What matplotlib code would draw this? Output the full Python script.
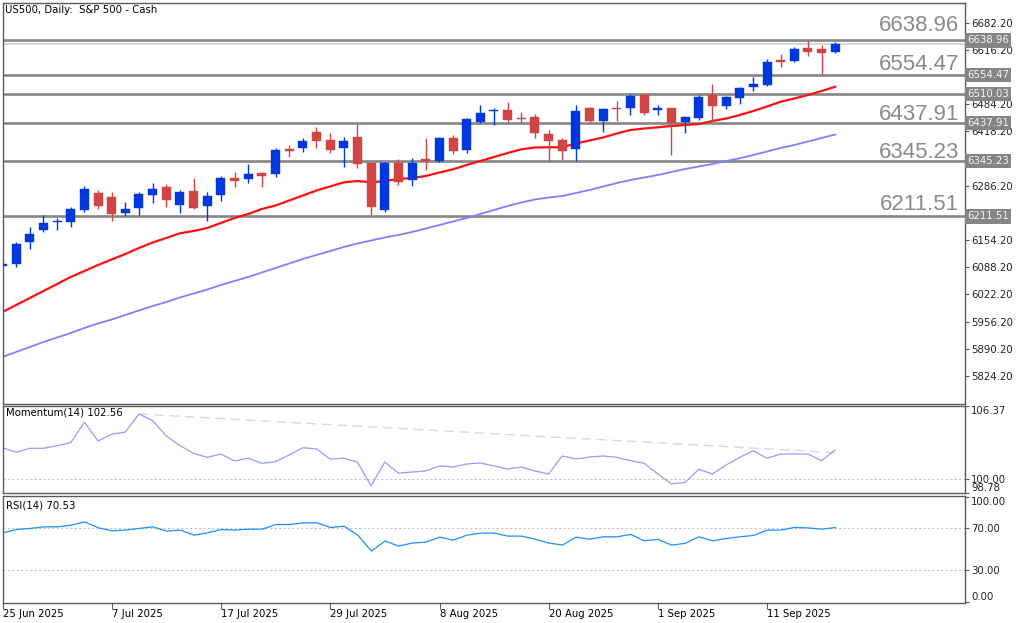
import numpy as np
import matplotlib
matplotlib.use("Agg")
import matplotlib.pyplot as plt
import matplotlib.transforms as mtransforms

# US500 daily candles, 25 Jun 2025 .. 18 Sep 2025
opens = [6091.3, 6095.4, 6149.6, 6178.0, 6197.4, 6198.9, 6227.3, 6269.3, 6258.1, 6219.3,
         6232.9, 6263.7, 6283.1, 6239.4, 6273.4, 6237.7, 6263.7, 6305.7, 6301.8, 6316.4,
         6314.7, 6375.4, 6377.1, 6417.4, 6397.3, 6377.1, 6405.3, 6340.7, 6227.3, 6340.7,
         6300.1, 6350.4, 6347.0, 6401.4, 6373.0, 6441.7, 6467.0, 6470.1, 6450.0, 6453.9,
         6411.9, 6397.3, 6374.7, 6475.7, 6444.2, 6474.3, 6474.3, 6506.6, 6470.1, 6474.3,
         6440.3, 6450.0, 6506.6, 6479.9, 6500.0, 6526.7, 6530.9, 6591.6, 6589.9, 6621.5,
         6617.6, 6611.7]
highs = [6101.0, 6150.3, 6186.7, 6215.1, 6207.1, 6235.3, 6286.3, 6275.8, 6271.0, 6246.0,
         6270.3, 6292.1, 6290.4, 6275.8, 6304.3, 6270.3, 6309.8, 6320.3, 6339.0, 6320.3,
         6377.1, 6385.1, 6401.4, 6429.6, 6413.6, 6405.3, 6435.4, 6342.0, 6344.6, 6351.1,
         6354.3, 6401.4, 6403.8, 6409.4, 6450.0, 6482.3, 6474.3, 6488.8, 6464.6, 6460.4,
         6421.6, 6401.4, 6482.3, 6478.2, 6474.3, 6492.7, 6509.0, 6508.5, 6482.3, 6476.0,
         6455.6, 6506.6, 6532.6, 6504.9, 6526.7, 6551.0, 6594.0, 6605.4, 6623.9, 6637.7,
         6628.0, 6636.0]
lows = [6088.8, 6089.6, 6131.8, 6174.6, 6178.7, 6186.7, 6221.7, 6229.0, 6201.3, 6213.4,
        6215.1, 6243.5, 6233.8, 6219.3, 6229.0, 6201.3, 6249.1, 6283.9, 6292.1, 6282.4,
        6308.2, 6356.7, 6368.9, 6378.6, 6365.0, 6332.4, 6328.6, 6215.1, 6221.7, 6288.0,
        6286.3, 6324.4, 6344.6, 6363.3, 6366.4, 6437.8, 6433.7, 6440.3, 6437.8, 6401.4,
        6347.0, 6348.7, 6347.0, 6440.3, 6417.4, 6444.2, 6458.0, 6458.0, 6458.0, 6360.9,
        6414.3, 6445.9, 6443.4, 6472.6, 6484.0, 6516.3, 6529.2, 6575.3, 6586.0, 6602.0,
        6556.8, 6607.9]
closes = [6096.1, 6144.0, 6169.0, 6196.4, 6200.6, 6229.0, 6277.5, 6237.0, 6217.6, 6229.0,
          6265.4, 6279.0, 6251.6, 6271.0, 6231.4, 6261.3, 6304.3, 6297.7, 6314.7, 6310.6,
          6373.0, 6371.3, 6395.6, 6394.9, 6373.0, 6394.9, 6339.0, 6235.3, 6340.7, 6294.5,
          6340.7, 6347.0, 6401.4, 6370.6, 6447.6, 6463.6, 6470.1, 6445.9, 6447.6, 6415.0,
          6395.6, 6371.3, 6467.7, 6444.2, 6471.8, 6471.8, 6504.9, 6463.6, 6474.3, 6437.8,
          6452.4, 6502.4, 6479.9, 6501.0, 6524.3, 6532.6, 6586.0, 6587.4, 6618.3, 6611.7,
          6607.9, 6630.4]

# moving averages (red = fast, lavender = slow)
ma_fast = [5979.5, 5996.5, 6013.5, 6030.5, 6047.5, 6064.6, 6079.1, 6093.7, 6107.1, 6120.4,
           6135.0, 6148.3, 6159.3, 6170.7, 6176.3, 6183.6, 6195.7, 6207.8, 6217.6, 6229.7,
           6238.2, 6250.3, 6262.5, 6274.6, 6284.4, 6294.5, 6297.7, 6294.5, 6297.7, 6302.6,
           6305.0, 6309.8, 6318.3, 6326.1, 6336.6, 6346.3, 6356.0, 6365.7, 6374.7, 6379.1,
           6379.6, 6379.6, 6388.8, 6396.1, 6403.4, 6413.1, 6421.6, 6425.2, 6428.1, 6431.3,
           6433.7, 6436.1, 6443.4, 6449.5, 6458.0, 6467.7, 6478.6, 6490.3, 6498.1, 6506.6,
           6516.3, 6526.7]
ma_slow = [5870.3, 5882.4, 5894.5, 5906.7, 5917.6, 5928.5, 5940.7, 5951.6, 5961.3, 5972.3,
           5983.2, 5994.1, 6003.8, 6014.8, 6024.5, 6034.2, 6045.1, 6054.8, 6064.6, 6075.5,
           6086.4, 6097.3, 6108.3, 6118.0, 6127.7, 6137.4, 6145.9, 6153.2, 6160.5, 6166.6,
           6173.8, 6182.3, 6190.8, 6199.3, 6207.8, 6217.6, 6227.3, 6237.0, 6245.5, 6252.8,
           6257.6, 6261.3, 6268.6, 6275.8, 6284.3, 6292.8, 6300.1, 6306.2, 6312.3, 6319.6,
           6326.8, 6332.9, 6339.0, 6346.3, 6352.8, 6360.9, 6369.4, 6377.9, 6385.1, 6393.6,
           6402.1, 6410.6]

momentum = [102.73, 102.33, 102.68, 102.68, 102.91, 103.17, 104.95, 103.32, 103.90, 104.10,
            105.67, 105.09, 103.75, 102.91, 102.24, 101.89, 102.18, 101.57, 101.81, 101.37,
            101.51, 102.10, 102.73, 102.62, 101.75, 101.81, 101.48, 99.39, 101.48, 100.52,
            100.61, 100.70, 101.14, 101.05, 101.31, 101.40, 101.14, 100.87, 101.05, 100.70,
            100.44, 102.01, 101.75, 101.92, 102.01, 101.89, 101.60, 101.37, 100.44, 99.57,
            99.71, 100.85, 100.44, 101.22, 101.89, 102.47, 101.81, 102.18, 102.18, 102.18,
            101.60, 102.56]
momentum_trend_x = [10, 61]
momentum_trend_y = [105.67, 102.30]

rsi = [65.5, 68.7, 69.7, 71.2, 71.2, 72.8, 75.9, 70.2, 67.4, 68.1,
       69.7, 71.2, 67.1, 68.1, 63.3, 65.5, 68.7, 68.1, 69.0, 69.0,
       73.4, 73.4, 75.0, 75.0, 70.6, 71.8, 63.3, 48.2, 57.7, 52.9,
       55.8, 56.7, 61.4, 58.6, 63.3, 65.2, 65.2, 62.4, 62.4, 59.5,
       55.8, 53.9, 61.4, 59.5, 61.7, 61.7, 64.0, 57.9, 59.3, 53.9,
       55.5, 61.7, 57.9, 60.2, 61.7, 63.0, 68.1, 68.1, 70.6, 70.2,
       69.0, 70.53]

# horizontal levels drawn on the chart
levels = [6638.96, 6554.47, 6510.03, 6437.91, 6345.23, 6211.51]
level_captions = ["6638.96", "6554.47", "", "6437.91", "6345.23", "6211.51"]
caption_offsets = [11, 8, 0, 6.5, 6.5, 8.5]  # points above the line
bid_price = 6630.4

# price scale; labels hidden under the level tags are left blank (as on the terminal)
price_ticks = [6682.20, 6616.20, 6550.20, 6484.20, 6418.20, 6352.20, 6286.20, 6220.20,
               6154.20, 6088.20, 6022.20, 5956.20, 5890.20, 5824.20]
price_tick_labels = ["6682.20", "6616.20", "", "6484.20", "6418.20", "", "6286.20", "",
                     "6154.20", "6088.20", "6022.20", "5956.20", "5890.20", "5824.20"]
date_labels = ["25 Jun 2025", "7 Jul 2025", "17 Jul 2025", "29 Jul 2025",
               "8 Aug 2025", "20 Aug 2025", "1 Sep 2025", "11 Sep 2025"]
date_idx = [0, 8, 16, 24, 32, 40, 48, 56]

UP = "#0038e0"
DOWN = "#d04444"
FRAME = "#5a5a5a"
LEVEL = "#868686"
FS = 7.3

W, H = 1024, 623
fig = plt.figure(figsize=(W / 100, H / 100), dpi=100)
fig.patch.set_facecolor("white")

def px_axes(left, top, right, bottom):
    return fig.add_axes([left / W, 1 - bottom / H, (right - left) / W, (bottom - top) / H])

ax = px_axes(3, 3, 965, 404)
ax_m = px_axes(3, 406, 965, 493)
ax_r = px_axes(3, 496, 965, 602.5)

x = np.arange(len(opens))
o = np.array(opens); c = np.array(closes)
cols = [UP if cc >= oo else DOWN for oo, cc in zip(o, c)]

for a in (ax, ax_m, ax_r):
    a.set_xlim(0.04, 70.5)
    for s in a.spines.values():
        s.set_color(FRAME)
        s.set_linewidth(1.0)
    a.yaxis.tick_right()
    a.tick_params(axis="y", direction="out", length=3, width=0.8, color=FRAME,
                  labelsize=FS, pad=1.5, labelcolor="#222222")
    a.tick_params(axis="x", bottom=False, labelbottom=False)

# ---- main price panel ----
ax.set_ylim(5756.1, 6730.0)
trans = mtransforms.blended_transform_factory(ax.transAxes, ax.transData)
for lv, cap, off in zip(levels, level_captions, caption_offsets):
    ax.axhline(lv, color=LEVEL, lw=1.9, zorder=1)
    if cap:
        ax.annotate(cap, xy=(0.9938, lv), xycoords=trans, xytext=(0, off),
                    textcoords="offset points", ha="right", va="center",
                    fontsize=16, color="#8a8a8a", family="Liberation Sans", zorder=5)
ax.axhline(bid_price, color="#d3dada", lw=1.4, zorder=1)

ax.plot(x, ma_slow, color="#8080ff", lw=1.3, zorder=2)
ax.plot(x, ma_fast, color="#ff1010", lw=1.6, zorder=2)

ax.vlines(x, lows, highs, colors=cols, lw=1.0, zorder=3)
bottoms = np.minimum(o, c)
heights = np.maximum(np.abs(c - o), 2.4)
ax.bar(x, heights, bottom=bottoms, width=0.66, color=cols, edgecolor=cols, lw=0.3, zorder=4)

ax.set_yticks(price_ticks)
ax.set_yticklabels(price_tick_labels)

# price tags on the right scale
for lv in levels:
    ax.text(1.0025, lv, f"{lv:.2f}", transform=trans, ha="left", va="center", fontsize=FS,
            color="#f4f4f4", clip_on=False, zorder=6,
            bbox=dict(boxstyle="square,pad=0.2", fc="#858585", ec="none"))

fig.text(5 / W, 1 - 10 / H, "US500, Daily:  S&P 500 - Cash", fontsize=FS, va="center", ha="left")

# ---- momentum panel ----
ax_m.set_ylim(98.78, 106.37)
ax_m.axhline(100, color="#c4c4c4", lw=0.8, ls=(0, (2, 2)))
ax_m.plot(momentum_trend_x, momentum_trend_y, color="#d2dae4", lw=1.0, ls=(0, (7, 4)))
ax_m.plot(x, momentum, color="#9a9aff", lw=0.9)
ax_m.set_yticks([106.37, 100.00, 98.78])
ax_m.set_yticklabels(["106.37", "100.00", "98.78"])
labs = ax_m.get_yticklabels()
labs[0].set_va("top")
labs[2].set_va("bottom")
ax_m.text(0.003, 0.92, "Momentum(14) 102.56", transform=ax_m.transAxes, fontsize=FS, va="center")

# ---- RSI panel ----
ax_r.set_ylim(-0.7, 100.5)
for lv in (70, 30):
    ax_r.axhline(lv, color="#c4c4c4", lw=0.8, ls=(0, (2, 2)))
ax_r.plot(x, rsi, color="#1e90ff", lw=0.9)
ax_r.set_yticks([100, 70, 30, 0])
ax_r.set_yticklabels(["100.00", "70.00", "30.00", "0.00"])
labs = ax_r.get_yticklabels()
labs[0].set_va("top")
labs[3].set_va("bottom")
ax_r.text(0.003, 0.915, "RSI(14) 70.53", transform=ax_r.transAxes, fontsize=FS, va="center")

ax_r.tick_params(axis="x", bottom=True, labelbottom=True, direction="out", length=4,
                 width=0.8, color=FRAME, labelsize=FS, pad=1)
ax_r.set_xticks(date_idx)
ax_r.set_xticklabels(date_labels)
for lab in ax_r.get_xticklabels():
    lab.set_ha("left")

fig.savefig("out.png", dpi=100)
